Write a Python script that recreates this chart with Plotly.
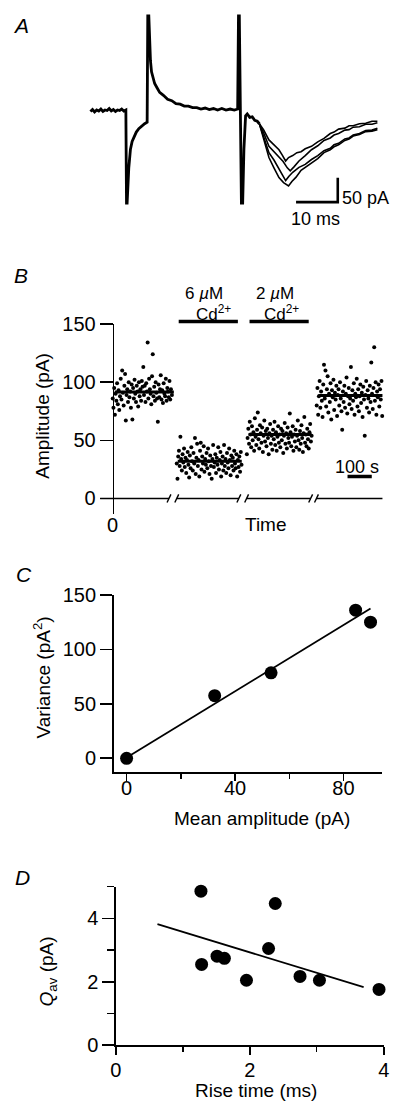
import plotly.graph_objects as go

W, H = 403, 1117
FONT = "Liberation Sans, Arial, Helvetica, sans-serif"


def fx(p):
    return p / W


def fy(p):
    return 1 - p / H


# ---------------- Panel A: current traces (ms, pA) ----------------
trace_main = [
    (0, -3), (0.5, 1), (1, -4), (1.5, 0), (2, -2), (2.5, 2), (3, -3), (3.5, 0), (4, -1),
    (4.5, 3), (5, -2), (5.5, 1), (6, -3), (6.5, 0), (7, -1), (7.5, 2), (8, -2), (8.5, 0),
    (8.65, -190), (8.8, -190), (9.2, -118), (9.6, -80), (10, -64), (10.4, -55), (11, -45),
    (11.6, -38), (12.3, -32), (13, -28), (13.6, -25),
    (13.75, 192), (14.0, 192), (14.15, 140), (14.4, 100), (14.65, 78), (15, 64), (15.4, 54),
    (16, 45), (16.6, 36), (17.5, 30), (18.5, 22), (19.5, 19), (20.5, 13), (21.5, 12), (22.5, 8),
    (23.5, 8), (24.5, 5), (25.5, 5), (26.5, 2), (27.5, 4), (28.5, 1), (29.5, 3), (30.5, 0),
    (31.5, 3), (32.5, 0), (33.5, 2), (34.5, 0), (35.3, 2),
    (35.5, 192), (35.7, 192), (35.9, 0), (36.2, -190), (36.5, -190), (36.8, -80), (37.2, -12),
    (37.6, -8), (38.2, -15), (38.8, -14), (39.4, -21), (40, -23), (40.5, -28),
]
epsc_1 = [
    (40.5, -28), (41.5, -40), (42.8, -61), (44, -72), (45.2, -81), (46, -92), (46.8, -104),
    (47.5, -97), (48.5, -93), (49.5, -87), (50.5, -85), (51.5, -79), (53, -74), (54.5, -65),
    (56, -58), (57.5, -48), (58.4, -45), (59.5, -39), (61, -37), (62, -32), (63, -32),
    (64.5, -28), (66, -27), (67.5, -23), (68.8, -23),
]
epsc_2 = [
    (40.5, -28), (41.5, -46), (42.8, -74), (44, -85), (45.2, -94), (46.2, -105), (47.2, -118),
    (47.9, -124), (48.8, -116), (50, -104), (51.5, -93), (53, -81), (54.5, -73), (56, -62),
    (57.5, -57), (58.4, -51), (59.5, -48), (61, -41), (62, -40), (63, -35), (64.5, -34),
    (66, -29), (67.5, -29), (68.8, -26),
]
epsc_3 = [
    (40.5, -28), (41.5, -52), (42.8, -87), (44, -102), (45.2, -120), (46, -134), (46.8, -144),
    (47.6, -135), (48.5, -127), (50, -117), (51.5, -111), (53, -101), (54.5, -93), (56, -83),
    (57.5, -78), (58.4, -71), (59.5, -68), (61, -59), (62, -57), (63, -51), (64.5, -48),
    (66, -42), (67.5, -41), (68.8, -37),
]
epsc_4 = [
    (40.5, -28), (41.5, -60), (42.8, -97), (44, -118), (45.2, -138), (46.3, -148), (47.5, -155),
    (48.3, -146), (49.3, -137), (50.5, -123), (51.8, -115), (53, -107), (54.5, -99), (56, -87),
    (57.5, -81), (58.4, -75), (59.5, -71), (61, -62), (62, -59), (63, -53), (64.5, -50),
    (66, -44), (67.5, -43), (68.8, -40),
]
scale_ms = 10
scale_pA = 50

# ---------------- Panel B: amplitude vs time (s, pA) ----------------
seg_control = [
    (0, 86), (3, 78), (6, 95), (9, 72), (12, 90), (15, 84), (18, 99), (21, 81), (24, 93), (27, 76),
    (30, 88), (33, 103), (36, 85), (39, 110), (42, 91), (45, 80), (48, 97), (51, 107), (54, 67),
    (57, 89), (60, 94), (63, 83), (66, 100), (69, 87), (72, 92), (75, 78), (78, 98), (81, 68),
    (84, 95), (87, 86), (90, 102), (93, 90), (96, 83), (99, 97), (102, 92), (105, 79), (108, 100),
    (111, 88), (114, 94), (117, 84), (120, 101), (123, 96), (126, 113), (129, 89), (132, 97),
    (135, 83), (138, 99), (141, 92), (144, 134), (147, 86), (150, 103), (153, 94), (156, 90),
    (159, 81), (162, 105), (165, 124), (168, 88), (171, 96), (174, 84), (177, 100), (180, 91),
    (183, 86), (186, 66), (189, 98), (192, 87), (195, 94), (198, 106), (201, 85), (204, 93),
    (207, 82), (210, 99), (213, 90), (216, 88), (219, 103), (222, 84), (225, 95), (228, 92),
    (231, 87), (234, 101), (237, 85), (240, 94), (244, 89),
]
seg_cd6 = [
    (264, 30), (267, 17), (270, 36), (273, 41), (276, 28), (279, 53), (282, 34), (285, 24),
    (288, 38), (291, 31), (294, 43), (297, 27), (300, 35), (303, 22), (306, 33), (309, 40),
    (312, 29), (315, 18), (318, 37), (321, 26), (324, 44), (327, 32), (330, 24), (333, 39),
    (336, 30), (339, 52), (342, 21), (345, 35), (348, 47), (351, 28), (354, 33), (357, 19),
    (360, 41), (363, 48), (366, 25), (369, 36), (372, 30), (375, 45), (378, 23), (381, 34),
    (384, 29), (387, 39), (390, 26), (393, 43), (396, 32), (399, 21), (402, 37), (405, 28),
    (408, 17), (411, 34), (414, 46), (417, 27), (420, 31), (423, 38), (426, 22), (429, 35),
    (432, 29), (435, 44), (438, 25), (441, 33), (444, 40), (447, 19), (450, 30), (453, 36),
    (456, 24), (459, 46), (462, 28), (465, 34), (468, 22), (471, 39), (474, 31), (477, 26),
    (480, 43), (483, 33), (486, 20), (489, 37), (492, 28), (495, 35), (498, 24), (501, 41),
    (504, 30), (507, 26), (510, 38), (513, 19), (516, 33), (519, 27), (522, 36), (525, 23),
    (528, 40), (531, 29),
]
seg_cd2 = [
    (553, 38), (556, 52), (559, 60), (562, 47), (565, 66), (568, 55), (571, 44), (574, 62),
    (577, 50), (580, 57), (583, 41), (586, 69), (589, 53), (592, 46), (595, 59), (598, 74),
    (601, 51), (604, 43), (607, 63), (610, 56), (613, 48), (616, 61), (619, 40), (622, 54),
    (625, 67), (628, 49), (631, 58), (634, 45), (637, 60), (640, 52), (643, 38), (646, 56),
    (649, 64), (652, 47), (655, 54), (658, 42), (661, 59), (664, 51), (667, 66), (670, 46),
    (673, 57), (676, 41), (679, 53), (682, 62), (685, 48), (688, 55), (691, 44), (694, 60),
    (697, 50), (700, 58), (703, 39), (706, 54), (709, 65), (712, 47), (715, 56), (718, 43),
    (721, 61), (724, 52), (727, 48), (730, 73), (733, 57), (736, 45), (739, 53), (742, 62),
    (745, 41), (748, 55), (751, 49), (754, 59), (757, 44), (760, 54), (763, 67), (766, 50),
    (769, 42), (772, 58), (775, 47), (778, 63), (781, 52), (784, 40), (787, 56), (790, 70),
    (793, 48), (796, 55), (799, 45), (802, 60), (805, 51), (808, 43), (811, 57), (814, 64),
    (817, 49), (820, 54),
]
seg_wash = [
    (841, 80), (844, 95), (847, 72), (850, 88), (853, 101), (856, 78), (859, 92), (862, 84),
    (865, 70), (868, 98), (871, 115), (874, 86), (877, 110), (880, 79), (883, 94), (886, 105),
    (889, 74), (892, 90), (895, 83), (898, 99), (901, 68), (904, 93), (907, 87), (910, 102),
    (913, 76), (916, 91), (919, 85), (922, 97), (925, 71), (928, 89), (931, 94), (934, 80),
    (937, 100), (940, 86), (943, 75), (946, 59), (949, 92), (952, 83), (955, 97), (958, 78),
    (961, 90), (964, 104), (967, 73), (970, 88), (973, 95), (976, 81), (979, 86), (982, 113),
    (985, 77), (988, 93), (991, 84), (994, 99), (997, 72), (1000, 90), (1003, 87), (1006, 103),
    (1009, 79), (1012, 94), (1015, 75), (1018, 88), (1021, 98), (1024, 82), (1027, 91),
    (1030, 70), (1033, 96), (1036, 85), (1039, 54), (1042, 89), (1045, 101), (1048, 78),
    (1051, 93), (1054, 86), (1057, 74), (1060, 97), (1063, 83), (1066, 117), (1069, 90),
    (1072, 77), (1075, 95), (1078, 130), (1081, 84), (1084, 100), (1087, 72), (1090, 92),
    (1093, 87), (1096, 98), (1099, 79), (1102, 94), (1105, 85), (1108, 101), (1111, 71),
]
segments_b = [seg_control, seg_cd6, seg_cd2, seg_wash]
mean_levels = [91.5, 32, 55, 88.5]
mean_spans = [(8, 252), (268, 532), (560, 820), (848, 1112)]
axis_pieces = [(-52, 232), (264, 520), (552, 816), (840, 1112)]
cd_bars = [(272, 516, "6 <i>µ</i>M"), (564, 808, "2 <i>µ</i>M")]
yticks_b = [0, 50, 100, 150]

# ---------------- Panel C: variance vs mean ----------------
mean_amp = [0, 32.5, 53.3, 84.5, 90]
variance = [0, 57.5, 78.5, 136, 125]
fit_c_x = [0.5, 90]
fit_c_y = [1.5, 137.5]

# ---------------- Panel D: Qav vs rise time ----------------
rise_time = [1.27, 1.28, 1.51, 1.62, 1.95, 2.28, 2.38, 2.75, 3.04, 3.93]
q_av = [4.86, 2.55, 2.81, 2.74, 2.05, 3.05, 4.47, 2.17, 2.05, 1.76]
fit_d_x = [0.62, 3.70]
fit_d_y = [3.82, 1.83]

fig = go.Figure()

# Panel A traces
fig.add_trace(go.Scatter(x=[p[0] for p in trace_main], y=[p[1] for p in trace_main],
                         mode="lines", line=dict(color="black", width=2.8),
                         xaxis="x", yaxis="y", hoverinfo="skip"))
for tr in (epsc_1, epsc_2, epsc_3, epsc_4):
    fig.add_trace(go.Scatter(x=[p[0] for p in tr], y=[p[1] for p in tr], mode="lines",
                             line=dict(color="black", width=1.6), xaxis="x", yaxis="y",
                             hoverinfo="skip"))
bar_x0, bar_y0 = 59.3, -188
fig.add_trace(go.Scatter(x=[bar_x0 - scale_ms, bar_x0, bar_x0],
                         y=[bar_y0, bar_y0, bar_y0 + scale_pA], mode="lines",
                         line=dict(color="black", width=2.6), xaxis="x", yaxis="y"))

# Panel B
for seg in segments_b:
    fig.add_trace(go.Scatter(x=[p[0] for p in seg], y=[p[1] for p in seg], mode="markers",
                             marker=dict(color="black", size=4), xaxis="x2", yaxis="y2",
                             cliponaxis=False))
for (x0, x1), m in zip(mean_spans, mean_levels):
    fig.add_trace(go.Scatter(x=[x0, x1], y=[m, m], mode="lines",
                             line=dict(color="black", width=3), xaxis="x2", yaxis="y2"))

# Panel C
fig.add_trace(go.Scatter(x=fit_c_x, y=fit_c_y, mode="lines", line=dict(color="black", width=1.8),
                         xaxis="x3", yaxis="y3"))
fig.add_trace(go.Scatter(x=mean_amp, y=variance, mode="markers",
                         marker=dict(color="black", size=13), xaxis="x3", yaxis="y3",
                         cliponaxis=False))

# Panel D
fig.add_trace(go.Scatter(x=fit_d_x, y=fit_d_y, mode="lines", line=dict(color="black", width=1.8),
                         xaxis="x4", yaxis="y4"))
fig.add_trace(go.Scatter(x=rise_time, y=q_av, mode="markers",
                         marker=dict(color="black", size=13), xaxis="x4", yaxis="y4",
                         cliponaxis=False))

shapes = []
# B broken time axis
for x0, x1 in axis_pieces:
    shapes.append(dict(type="line", xref="x2", yref="y2", x0=x0, x1=x1, y0=0, y1=0,
                       line=dict(color="black", width=1.6)))
break_points = [axis_pieces[0][1], axis_pieces[1][0], axis_pieces[1][1], axis_pieces[2][0],
                axis_pieces[2][1], axis_pieces[3][0]]
for xc in break_points:
    shapes.append(dict(type="line", xref="x2", yref="y2", x0=xc - 8, x1=xc + 8, y0=-3.5, y1=3.5,
                       line=dict(color="black", width=1.4)))
# Cd bars
for x0, x1, _ in cd_bars:
    shapes.append(dict(type="line", xref="x2", yref="paper", x0=x0, x1=x1,
                       y0=fy(316.7), y1=fy(316.7), line=dict(color="black", width=3.5)))
# 100 s scale bar
shapes.append(dict(type="line", xref="x2", yref="y2", x0=968, x1=1068, y0=18.8, y1=18.8,
                   line=dict(color="black", width=3.5)))

tickfont = dict(family=FONT, size=20, color="black")


def ann(x, y, text, size=19, italic=False, angle=0, xanchor="center", yanchor="middle"):
    t = f"<i>{text}</i>" if italic else text
    return dict(x=fx(x), y=fy(y), xref="paper", yref="paper", text=t, showarrow=False,
                font=dict(family=FONT, size=size, color="black"), textangle=angle,
                xanchor=xanchor, yanchor=yanchor, borderpad=0)


annotations = [
    ann(15, 15, "A", size=21, italic=True),
    ann(371, 191, "50 pA", size=18),
    ann(319, 212, "10 ms", size=18),
    ann(15, 270, "B", size=21, italic=True),
    ann(204, 288.5, cd_bars[0][2], size=17),
    ann(214, 308.5, "Cd<sup>2+</sup>", size=17),
    ann(277, 288.5, cd_bars[1][2], size=17),
    ann(284, 308.5, "Cd<sup>2+</sup>", size=17),
    ann(362, 465, "100 s", size=18),
    ann(268, 524, "Time", size=19),
    ann(110, 524, "0", size=20),
    ann(38, 413, "Amplitude (pA)", size=19, angle=-90),
    ann(19, 575, "C", size=21, italic=True),
    ann(37, 680, "Variance (pA<sup>2</sup>)", size=19, angle=-90),
    ann(264, 824, "Mean amplitude (pA)", size=19),
    ann(17, 884, "D", size=21, italic=True),
    ann(43, 980, "<i>Q</i><sub>av</sub> (pA)", size=19, angle=-90),
    ann(258, 1101, "Rise time (ms)", size=19),
]

axcommon = dict(showgrid=False, zeroline=False, showline=True, linecolor="black", linewidth=1.6,
                ticks="outside", tickcolor="black", tickwidth=1.6, tickfont=tickfont)

fig.update_layout(
    width=W, height=H, margin=dict(l=0, r=0, t=0, b=0),
    paper_bgcolor="white", plot_bgcolor="rgba(0,0,0,0)", showlegend=False,
    # Panel A (hidden axes)
    xaxis=dict(domain=[fx(80), fx(395)], range=[-1.63, 71.64], visible=False, anchor="y"),
    yaxis=dict(domain=[fy(230), fy(0)], range=[-258, 202], visible=False, anchor="x"),
    # Panel B
    xaxis2=dict(domain=[fx(90), fx(395)], range=[-80, 1140], visible=False, anchor="y2"),
    yaxis2=dict(domain=[fy(513.3), fy(319.3)], range=[-13.5, 150], anchor="free",
                position=fx(110), tickvals=yticks_b, ticklen=13, **axcommon),
    # Panel C
    xaxis3=dict(domain=[fx(111), fx(388)], range=[-4.76, 94.4], anchor="y3", tick0=0, dtick=40,
                ticklen=7, ticklabelstandoff=-10,
                minor=dict(dtick=20, ticklen=5, ticks="outside", tickcolor="black",
                           tickwidth=1.4, showgrid=False), **axcommon),
    yaxis3=dict(domain=[fy(776.7), fy(595.7)], range=[-12.96, 150], anchor="x3", tick0=0,
                dtick=50, ticklen=12, **axcommon),
    # Panel D
    xaxis4=dict(domain=[fx(113.3), fx(389.3)], range=[0, 4], anchor="y4", tick0=0, dtick=2,
                ticklen=8, ticklabelstandoff=-2,
                minor=dict(dtick=1, ticklen=5, ticks="outside", tickcolor="black",
                           tickwidth=1.4, showgrid=False), **axcommon),
    yaxis4=dict(domain=[fy(1055), fy(893.3)], range=[0, 5], anchor="x4", tick0=0, dtick=2,
                ticklen=12, minor=dict(dtick=1, ticklen=7, ticks="outside", tickcolor="black",
                                       tickwidth=1.4, showgrid=False), **axcommon),
    shapes=shapes,
    annotations=annotations,
)

fig.write_html("out.html", config={"displayModeBar": False, "staticPlot": True},
               post_script="document.body.style.margin='0';document.body.style.overflow='hidden';")
